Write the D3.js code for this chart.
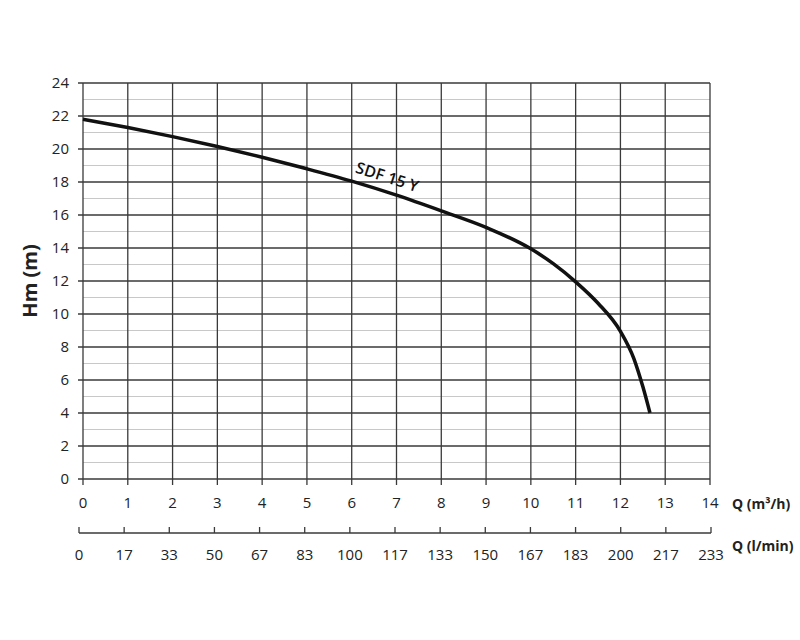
<!DOCTYPE html>
<html>
<head>
<meta charset="utf-8">
<script src="https://cdn.jsdelivr.net/npm/d3@7"></script>
<style>
  body { margin: 0; background: #fff; }
  text { font-family: "Open Sans", sans-serif; fill: #222; }
</style>
</head>
<body>
<div id="chart"></div>
<script>
// curve: Q in m3/h, H in m
let flow = [0, 1, 2, 3, 4, 5, 6, 7, 8, 9, 10, 10.5, 11, 11.5, 12, 12.3, 12.5, 12.66]
let head = [21.8, 21.3, 20.75, 20.15, 19.5, 18.8, 18.05, 17.2, 16.25, 15.25, 13.95, 13.05, 11.95, 10.65, 8.95, 7.3, 5.6, 4.0]
let curveName = "SDF 15 Y"

let qTicks = d3.range(0, 15)
let lminTicks = ["0", "17", "33", "50", "67", "83", "100", "117", "133", "150", "167", "183", "200", "217", "233"]
let hTicks = d3.range(0, 25, 2)

let margin = { top: 83, left: 83 },
  width = 627,
  height = 396

let svg = d3.select("#chart")
  .append("svg")
  .attr("width", 800)
  .attr("height", 640)

let g = svg.append("g")
  .attr("transform", "translate(" + margin.left + "," + margin.top + ")")

let x = d3.scaleLinear()
  .domain([0, 14])
  .range([0, width])

let y = d3.scaleLinear()
  .domain([0, 24])
  .range([height, 0])

// minor horizontal grid (odd values)
g.append("g")
  .selectAll("line")
  .data(d3.range(1, 24, 2))
  .enter().append("line")
  .attr("x1", 0)
  .attr("x2", width)
  .attr("y1", d => y(d))
  .attr("y2", d => y(d))
  .attr("stroke", "#c8c8c8")
  .attr("stroke-width", 1)

// major horizontal grid
g.append("g")
  .selectAll("line")
  .data(hTicks)
  .enter().append("line")
  .attr("x1", -5)
  .attr("x2", width)
  .attr("y1", d => y(d))
  .attr("y2", d => y(d))
  .attr("stroke", "#3a3a3a")
  .attr("stroke-width", 1.3)

// vertical grid with ticks below
g.append("g")
  .selectAll("line")
  .data(qTicks)
  .enter().append("line")
  .attr("x1", d => x(d))
  .attr("x2", d => x(d))
  .attr("y1", 0)
  .attr("y2", height + 6)
  .attr("stroke", "#3a3a3a")
  .attr("stroke-width", 1.3)

// y tick labels
g.append("g")
  .selectAll("text")
  .data(hTicks)
  .enter().append("text")
  .attr("x", -14)
  .attr("y", d => y(d))
  .attr("dy", "0.35em")
  .attr("text-anchor", "end")
  .style("font-size", "15px")
  .text(d => d)

// Q m3/h labels
g.append("g")
  .selectAll("text")
  .data(qTicks)
  .enter().append("text")
  .attr("x", d => x(d))
  .attr("y", height + 29)
  .attr("text-anchor", "middle")
  .style("font-size", "15px")
  .text(d => d)

svg.append("text")
  .attr("x", 732)
  .attr("y", 509)
  .style("font-size", "14px")
  .style("font-weight", "bold")
  .text("Q (m³/h)")

// second axis, l/min
let x2 = d3.scaleLinear()
  .domain([0, 14])
  .range([79, 711])

let axis2 = svg.append("g")
axis2.append("line")
  .attr("x1", x2(0))
  .attr("x2", x2(14))
  .attr("y1", 533)
  .attr("y2", 533)
  .attr("stroke", "#3a3a3a")
  .attr("stroke-width", 1.3)

axis2.selectAll(".tk")
  .data(lminTicks)
  .enter().append("line")
  .attr("class", "tk")
  .attr("x1", (d, i) => x2(i))
  .attr("x2", (d, i) => x2(i))
  .attr("y1", 527)
  .attr("y2", 533)
  .attr("stroke", "#3a3a3a")
  .attr("stroke-width", 1.3)

axis2.selectAll("text")
  .data(lminTicks)
  .enter().append("text")
  .attr("x", (d, i) => x2(i))
  .attr("y", 560)
  .attr("text-anchor", "middle")
  .style("font-size", "15px")
  .text(d => d)

svg.append("text")
  .attr("x", 732)
  .attr("y", 551)
  .style("font-size", "14px")
  .style("font-weight", "bold")
  .text("Q (l/min)")

// y title
svg.append("text")
  .attr("transform", "translate(37,281) rotate(-90)")
  .attr("text-anchor", "middle")
  .style("font-size", "20px")
  .style("font-weight", "bold")
  .text("Hm (m)")

// pump curve
let pts = flow.map((q, i) => [q, head[i]])
g.append("path")
  .datum(pts)
  .attr("d", d3.line()
    .x(d => x(d[0]))
    .y(d => y(d[1]))
    .curve(d3.curveMonotoneX))
  .attr("fill", "none")
  .attr("stroke", "#111")
  .attr("stroke-width", 3.5)

g.append("text")
  .attr("transform", "translate(" + (x(6.02) + 2) + "," + (y(18.05) - 9) + ") rotate(18)")
  .style("font-size", "16px")
  .style("font-weight", "600")
  .style("fill", "#111")
  .text(curveName)
</script>
</body>
</html>
